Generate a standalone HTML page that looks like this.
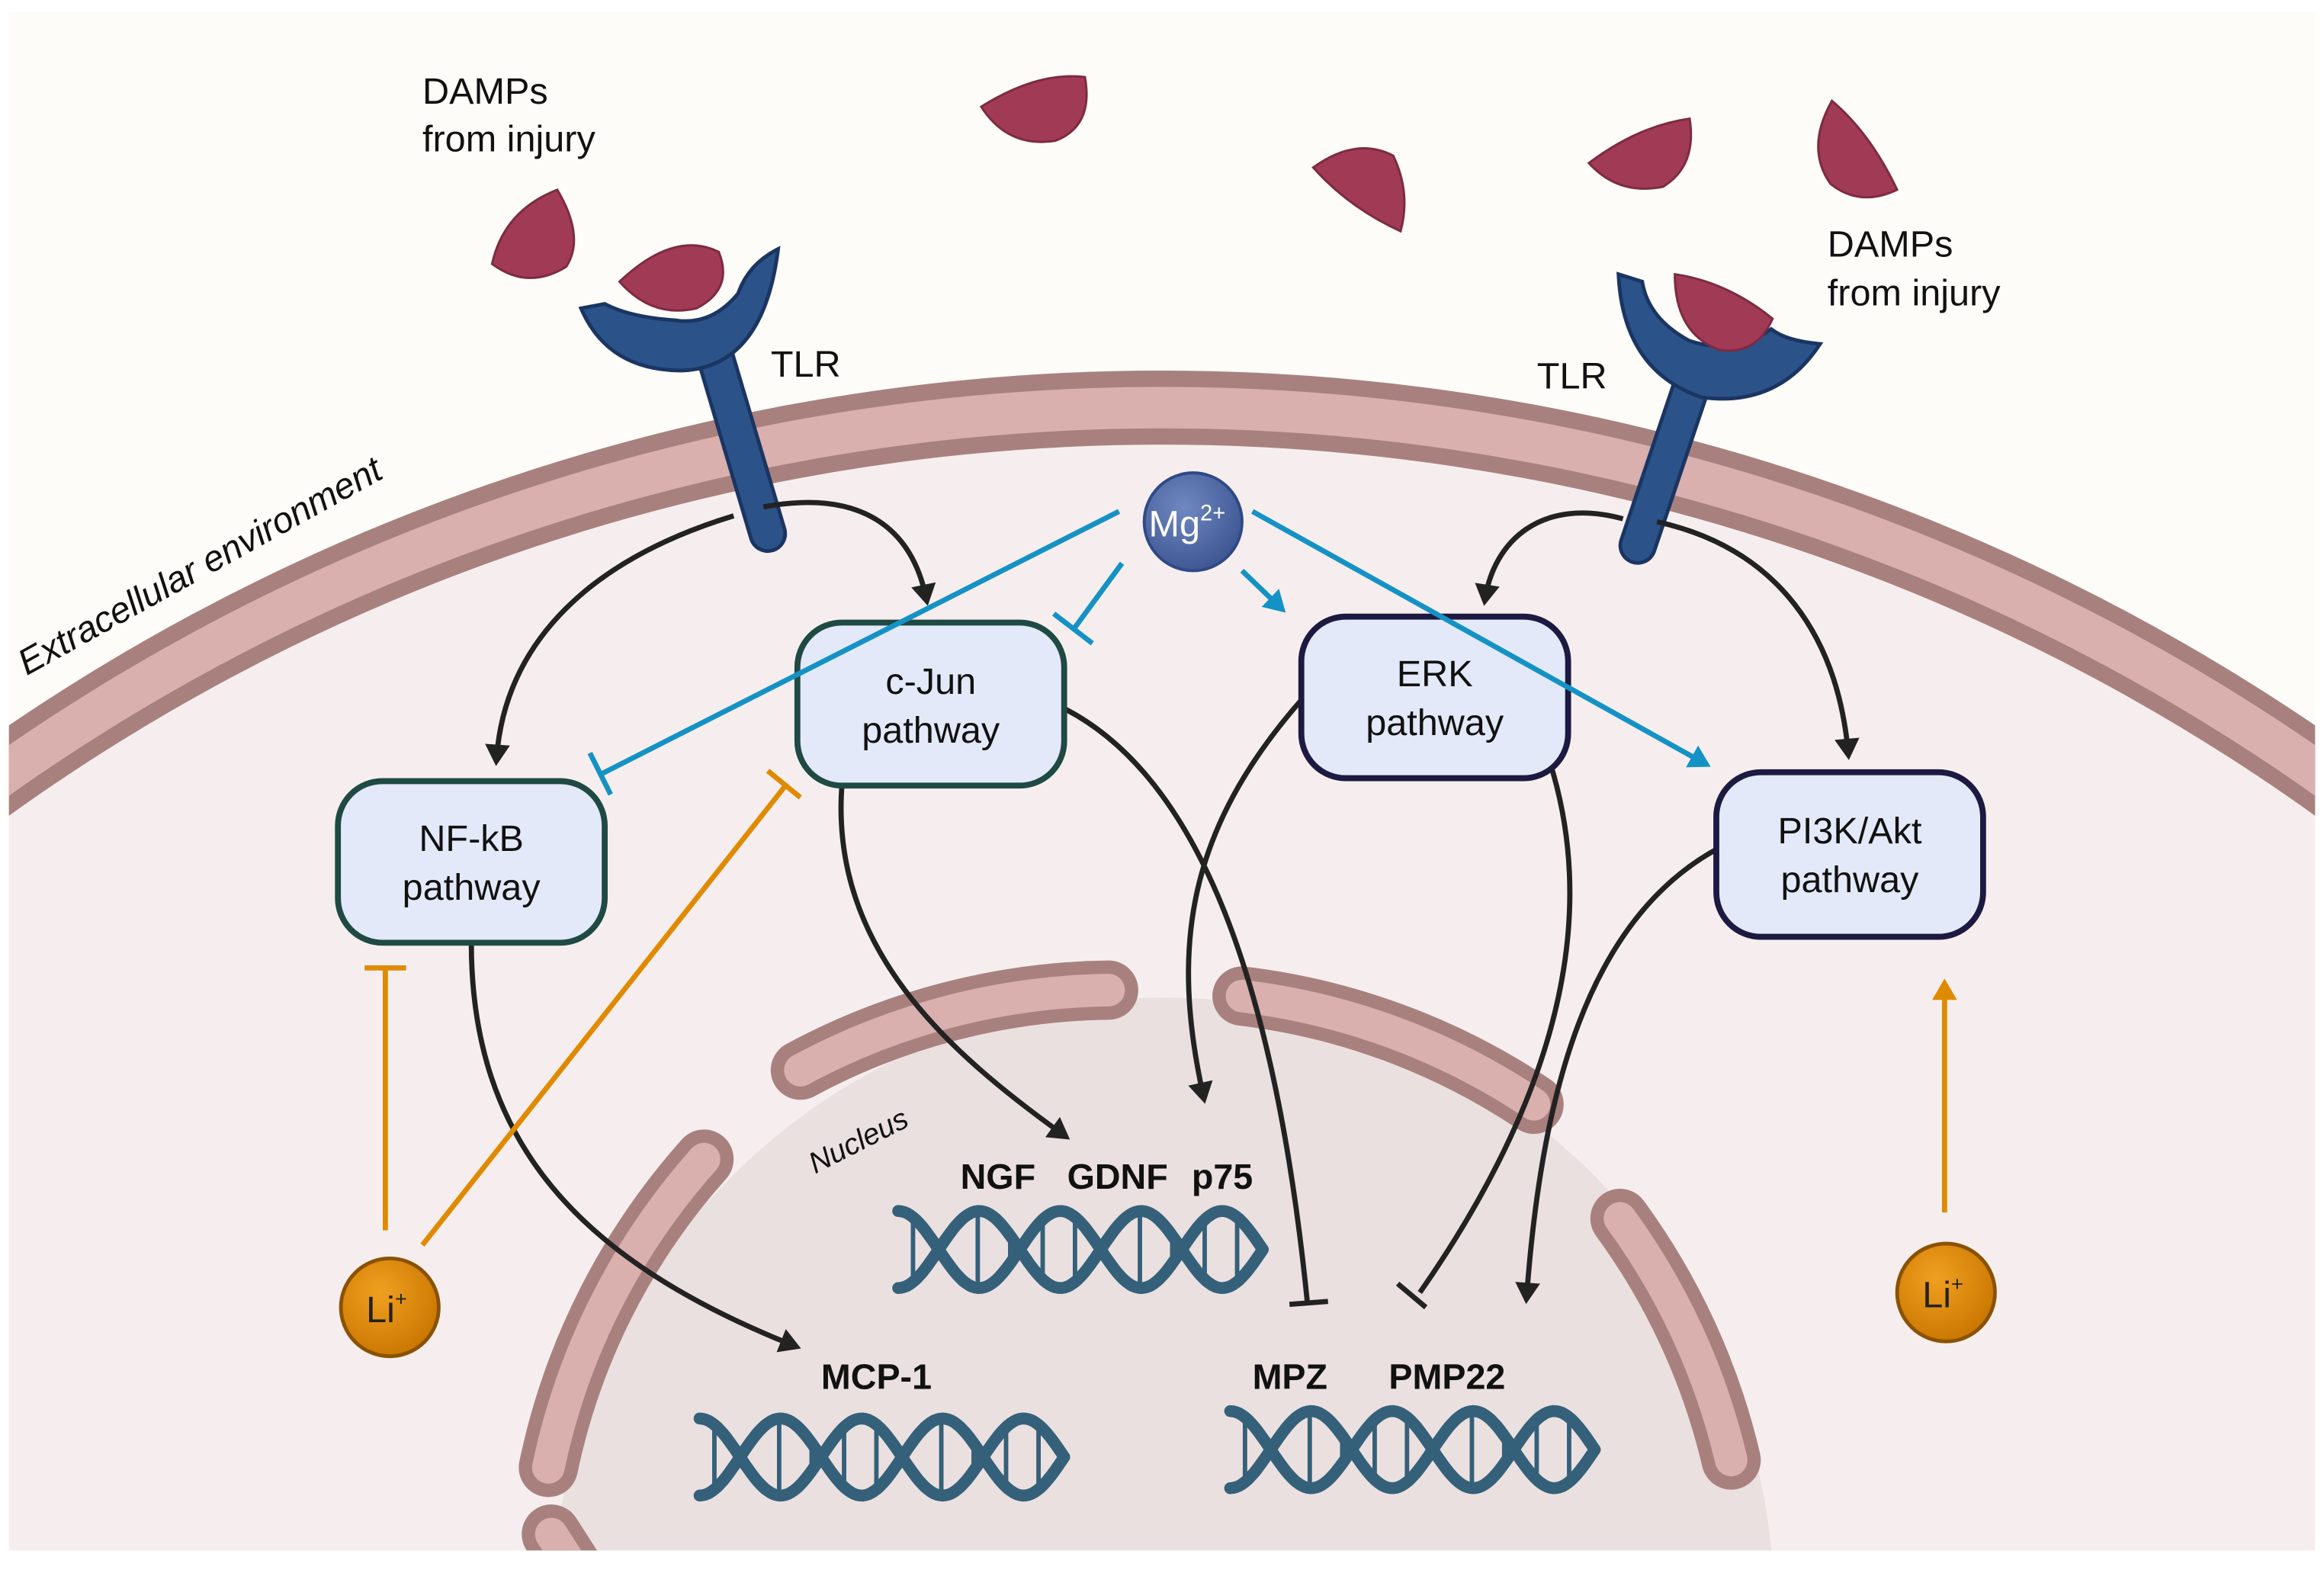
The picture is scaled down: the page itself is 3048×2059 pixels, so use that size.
<!DOCTYPE html>
<html><head><meta charset="utf-8"><style>
html,body{margin:0;padding:0;background:#fff;overflow:hidden;width:3048px;height:2059px}
svg{display:block}
text{font-family:"Liberation Sans",sans-serif}
</style></head><body>
<svg id="s" width="3048" height="2059" viewBox="0 0 1568 1059.2" xmlns="http://www.w3.org/2000/svg">
<defs>
<marker id="ab" viewBox="0 0 10 10" refX="8" refY="5" markerWidth="6" markerHeight="6" orient="auto" markerUnits="userSpaceOnUse" style="overflow:visible"><path d="M-8,-9 L16,5 L-8,19 Z" fill="#222"/></marker>
<marker id="abl" viewBox="0 0 10 10" refX="8" refY="5" markerWidth="6" markerHeight="6" orient="auto" markerUnits="userSpaceOnUse" style="overflow:visible"><path d="M-8,-9 L16,5 L-8,19 Z" fill="#1592c5"/></marker>
<marker id="aor" viewBox="0 0 10 10" refX="8" refY="5" markerWidth="6" markerHeight="6" orient="auto" markerUnits="userSpaceOnUse" style="overflow:visible"><path d="M-8,-9 L16,5 L-8,19 Z" fill="#e08a00"/></marker>
<radialGradient id="mg" cx="0.4" cy="0.35" r="0.7"><stop offset="0" stop-color="#6f88c0"/><stop offset="1" stop-color="#3c5592"/></radialGradient>
<radialGradient id="li" cx="0.4" cy="0.35" r="0.7"><stop offset="0" stop-color="#f0a020"/><stop offset="1" stop-color="#c87500"/></radialGradient>
<clipPath id="frame"><rect x="6" y="8" width="1556" height="1038"/></clipPath>
</defs>
<g clip-path="url(#frame)">
<rect x="0" y="0" width="1568" height="1060" fill="#fdfcf9"/>
<circle cx="784" cy="1634" r="1334" fill="#f6eeee"/>
<circle cx="784" cy="1634" r="1359" fill="none" stroke="#a8817e" stroke-width="50"/>
<circle cx="784" cy="1634" r="1359" fill="none" stroke="#d9b0ae" stroke-width="28"/>
<circle cx="785" cy="1085" r="412" fill="#ebe0e0"/>
<g fill="none" stroke-linecap="round">
<g stroke="#a8817e" stroke-width="40">
<path d="M540,722 A450,450 0 0 1 748,668"/>
<path d="M838,672 A450,450 0 0 1 1035,745"/>
<path d="M1093,822 A450,450 0 0 1 1168,985"/>
<path d="M475,782 A450,450 0 0 0 370,990"/>
<path d="M372,1035 L388,1060"/>
</g>
<g stroke="#d9b0ae" stroke-width="22">
<path d="M540,722 A450,450 0 0 1 748,668"/>
<path d="M838,672 A450,450 0 0 1 1035,745"/>
<path d="M1093,822 A450,450 0 0 1 1168,985"/>
<path d="M475,782 A450,450 0 0 0 370,990"/>
<path d="M372,1035 L388,1060"/>
</g>
</g>
</g>
<g id="dna"></g>
<g fill="#a03a55" stroke="#7d2a40" stroke-width="1.5">
<path d="M332,178 Q340,142 376,128 Q395,160 382,180 Q356,196 332,178Z"/>
<path d="M662,72 Q700,48 732,52 Q738,85 712,95 Q680,100 662,72Z"/>
<path d="M886,113 Q915,92 940,105 Q952,130 945,156 Q910,140 886,113Z"/>
<path d="M1072,110 Q1105,85 1140,80 Q1145,112 1122,126 Q1092,132 1072,110Z"/>
<path d="M1236,68 Q1262,90 1280,128 Q1255,140 1235,124 Q1218,100 1236,68Z"/>
</g>
<g stroke-linecap="round">
<path d="M480,232 L518,360" stroke="#1b3563" stroke-width="26"/>
<path d="M480,232 L518,360" stroke="#2c5389" stroke-width="21"/>
<path d="M1142,258 L1105,368" stroke="#1b3563" stroke-width="26"/>
<path d="M1142,258 L1105,368" stroke="#2c5389" stroke-width="21"/>
</g>
<g fill="#2c5389" stroke="#1b3563" stroke-width="2.5">
<path d="M392,208 Q410,250 460,250 Q515,248 525,168 Q505,178 498,198 Q480,220 455,216 Q425,214 408,205Z"/>
<path d="M1092,185 Q1095,250 1148,268 Q1200,275 1228,232 Q1205,230 1195,222 Q1170,240 1140,230 Q1112,215 1108,190Z"/>
</g>
<g fill="#a03a55" stroke="#7d2a40" stroke-width="1.5">
<path d="M418,190 Q455,155 485,170 Q495,195 470,208 Q440,215 418,190Z"/>
<path d="M1130,185 Q1165,190 1196,215 Q1185,240 1160,236 Q1130,225 1130,185Z"/>
</g>
<g font-size="25" fill="#111">
<text x="285" y="70">DAMPs</text><text x="285" y="102">from injury</text>
<text x="1233" y="173">DAMPs</text><text x="1233" y="206">from injury</text>
<text x="520" y="254">TLR</text><text x="1037" y="262">TLR</text>
</g>
<text x="0" y="0" font-size="24.5" font-style="italic" fill="#111" transform="translate(18,456) rotate(-29)">Extracellular environment</text>
<text x="0" y="0" font-size="20" font-style="italic" fill="#111" transform="translate(550,792) rotate(-27)">Nucleus</text>
<g fill="none" stroke="#222" stroke-width="3.5">
<path d="M515,342 C580,330 615,355 625,404" marker-end="url(#ab)"/>
<path d="M495,348 C390,380 340,440 335,512" marker-end="url(#ab)"/>
<path d="M1095,350 C1040,335 1008,365 1002,404" marker-end="url(#ab)"/>
<path d="M1118,352 C1200,370 1240,430 1247,508" marker-end="url(#ab)"/>
<path d="M318,636 C318,770 390,850 536,908" marker-end="url(#ab)"/>
<path d="M568,530 C560,640 640,710 718,766" marker-end="url(#ab)"/>
<path d="M718,478 C800,520 858,640 882,878"/>
<path d="M870,880 L896,878"/>
<path d="M880,470 C800,560 790,640 812,740" marker-end="url(#ab)"/>
<path d="M1045,512 C1080,620 1050,740 958,872"/>
<path d="M943,866 L962,882"/>
<path d="M1160,572 C1070,620 1040,740 1030,875" marker-end="url(#ab)"/>
</g>
<g stroke-width="4">
<rect x="538" y="420" width="180" height="110" rx="30" fill="#e3e9f8" stroke="#1f4a44"/>
<rect x="228" y="527" width="180" height="109" rx="30" fill="#e3e9f8" stroke="#1f4a44"/>
<rect x="878" y="416" width="180" height="109" rx="30" fill="#e3e9f8" stroke="#1c1a40"/>
<rect x="1158" y="521" width="180" height="111" rx="30" fill="#e3e9f8" stroke="#1c1a40"/>
</g>
<g font-size="25" fill="#111" text-anchor="middle">
<text x="628" y="468">c-Jun</text><text x="628" y="501">pathway</text>
<text x="318" y="574">NF-kB</text><text x="318" y="607">pathway</text>
<text x="968" y="463">ERK</text><text x="968" y="496">pathway</text>
<text x="1248" y="569">PI3K/Akt</text><text x="1248" y="602">pathway</text>
</g>
<g fill="none" stroke="#1592c5" stroke-width="3.5">
<path d="M755,345 L406,522"/><path d="M398,508 L412,536"/>
<path d="M757,380 L724,425"/><path d="M711,414 L737,434"/>
<path d="M838,385 L864,410" marker-end="url(#abl)"/>
<path d="M845,345 L1150,515" marker-end="url(#abl)"/>
</g>
<g fill="none" stroke="#e08a00" stroke-width="3.5">
<path d="M260,830 L260,653"/><path d="M246,653 L274,653"/>
<path d="M285,840 L530,530"/><path d="M518,520 L540,538"/>
<path d="M1312,818 L1312,665" marker-end="url(#aor)"/>
</g>
<circle cx="805" cy="352" r="33" fill="url(#mg)" stroke="#2e4a85" stroke-width="2"/>
<text x="775" y="362" font-size="25" fill="#fff">Mg<tspan font-size="15" dy="-11">2+</tspan></text>
<circle cx="263" cy="882" r="33" fill="url(#li)" stroke="#8a5200" stroke-width="2.5"/>
<text x="247" y="892" font-size="25" fill="#222">Li<tspan font-size="14" dy="-11">+</tspan></text>
<circle cx="1313" cy="872" r="33" fill="url(#li)" stroke="#8a5200" stroke-width="2.5"/>
<text x="1297" y="882" font-size="25" fill="#222">Li<tspan font-size="14" dy="-11">+</tspan></text>
<g font-size="24" font-weight="bold" fill="#111">
<text x="648" y="802">NGF</text><text x="720" y="802">GDNF</text><text x="804" y="802">p75</text>
<text x="554" y="937">MCP-1</text>
<text x="845" y="937">MPZ</text><text x="937" y="937">PMP22</text>
</g>
</svg>
<script>
(function(){
var g=document.getElementById('dna'),ns='http://www.w3.org/2000/svg';
function dna(x0,x1,yc){
 var A=26,P=(x1-x0)/2.25,a='',b='',s='';
 for(var x=x0;x<=x1;x+=2){var t=(x-x0)/P*2*Math.PI;var ya=yc-A*Math.cos(t),yb=yc+A*Math.cos(t);
  a+=(x==x0?'M':'L')+x+','+ya.toFixed(1);b+=(x==x0?'M':'L')+x+','+yb.toFixed(1);}
 for(var x=x0+10;x<x1;x+=P/5){var t=(x-x0)/P*2*Math.PI;var c=Math.cos(t);if(Math.abs(c)<0.35)continue;
  s+='M'+x.toFixed(1)+','+(yc-A*c).toFixed(1)+'L'+x.toFixed(1)+','+(yc+A*c).toFixed(1);}
 [[s,3],[a,8],[b,8]].forEach(function(p){var e=document.createElementNS(ns,'path');e.setAttribute('d',p[0]);e.setAttribute('fill','none');e.setAttribute('stroke','#356079');e.setAttribute('stroke-width',p[1]);e.setAttribute('stroke-linecap','round');g.appendChild(e);});
}
dna(606,852,843);dna(472,718,983);dna(830,1076,978);
})();
</script>
</body></html>
